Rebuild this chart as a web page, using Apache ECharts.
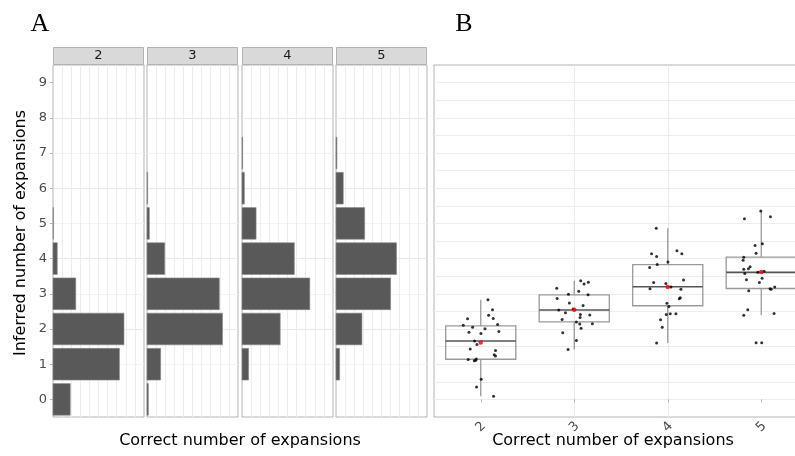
<!DOCTYPE html>
<html>
<head>
<meta charset="utf-8">
<script src="https://cdn.jsdelivr.net/npm/echarts@6/dist/echarts.min.js"></script>
<style>
  html, body { margin: 0; padding: 0; background: #fff; }
  #chart { width: 795px; height: 456px; }
</style>
</head>
<body>
<div id="chart"></div>
<script>
// 数据：A面板直方图（每个正确扩展数一个分面）
const facetLabels = ['2', '3', '4', '5'];
const inferredLevels = [0, 1, 2, 3, 4, 5, 6, 7, 8, 9];
const hist2 = [1.9, 7.3, 7.8, 2.5, 0.47, 0.05, 0, 0, 0, 0];
const hist3 = [0.15, 1.5, 8.3, 7.95, 1.95, 0.26, 0.07, 0, 0, 0];
const hist4 = [0, 0.73, 4.2, 7.45, 5.75, 1.55, 0.26, 0.07, 0, 0];
const hist5 = [0, 0.4, 2.85, 6.0, 6.65, 3.15, 0.8, 0.1, 0, 0];
const yTicks = [0, 1, 2, 3, 4, 5, 6, 7, 8, 9];

// 数据：B面板箱线图
const boxCats = [2, 3, 4, 5];
const whiskerLow = [0.09, 1.42, 1.6, 2.4];
const q1 = [1.14, 2.2, 2.66, 3.15];
const medians = [1.66, 2.54, 3.2, 3.61];
const q3 = [2.09, 2.97, 3.83, 4.04];
const whiskerHigh = [2.83, 3.37, 4.86, 5.35];
const means = [1.62, 2.55, 3.19, 3.62];

// 抖动点 [x, y]
const pts2 = [[2.077, 2.83], [2.126, 2.55], [2.084, 2.39], [2.134, 2.30], [1.859, 2.29], [2.18, 2.13],
  [1.813, 2.11], [1.913, 2.05], [2.045, 2.01], [2.194, 1.93], [1.874, 1.91], [2.002, 1.87],
  [1.934, 1.66], [1.959, 1.56], [1.888, 1.43], [2.158, 1.39], [2.144, 1.27], [2.158, 1.23],
  [1.866, 1.13], [1.952, 1.15], [1.931, 1.10], [1.945, 1.11], [2.005, 0.57], [1.955, 0.35], [2.137, 0.09]];
const pts3 = [[3.069, 3.37], [3.105, 3.28], [3.151, 3.33], [2.813, 3.16], [3.048, 3.07], [2.938, 2.99],
  [3.148, 2.97], [2.817, 2.87], [2.948, 2.74], [3.094, 2.67], [2.834, 2.54], [2.988, 2.57],
  [2.906, 2.46], [3.066, 2.41], [3.166, 2.40], [3.062, 2.33], [2.87, 2.27], [3.023, 2.20],
  [3.059, 2.14], [3.194, 2.15], [3.073, 2.02], [2.877, 1.89], [3.023, 1.67], [2.934, 1.42]];
const pts4 = [[3.877, 4.86], [4.098, 4.22], [4.151, 4.14], [3.827, 4.14], [3.881, 4.06], [4.002, 3.90],
  [3.888, 3.83], [3.806, 3.75], [4.169, 3.39], [3.849, 3.32], [3.98, 3.29], [4.034, 3.19],
  [3.81, 3.14], [4.141, 3.13], [4.134, 2.89], [4.123, 2.86], [3.991, 2.73], [4.012, 2.64],
  [3.984, 2.41], [4.027, 2.43], [4.087, 2.43], [3.923, 2.26], [3.941, 2.05], [3.881, 1.60]];
const pts5 = [[4.995, 5.35], [5.098, 5.19], [4.82, 5.13], [4.934, 4.37], [5.012, 4.42], [4.945, 4.15],
  [4.813, 4.04], [4.806, 3.95], [4.881, 3.77], [4.863, 3.71], [4.813, 3.70], [4.824, 3.58],
  [4.963, 3.61], [5.03, 3.64], [5.009, 3.44], [4.842, 3.40], [4.98, 3.32], [5.144, 3.19],
  [5.094, 3.14], [5.105, 3.13], [4.866, 3.09], [4.856, 2.55], [4.813, 2.39], [5.137, 2.44],
  [4.945, 1.61], [5.005, 1.61]];

const chart = echarts.init(document.getElementById('chart'));

const FONT = '"DejaVu Sans", sans-serif';
const facetLeft = [53, 147, 242, 336];
const facetWidth = 91;
const panelTop = 65;
const panelHeight = 352;

const hists = [hist2, hist3, hist4, hist5];

// 水平条形（直方图）
function renderBar(params, api) {
  const v = api.value(0);
  const y = api.value(1);
  const p0 = api.coord([0, y + 0.45]);
  const p1 = api.coord([v, y - 0.45]);
  return {
    type: 'rect',
    shape: { x: p0[0], y: p0[1], width: p1[0] - p0[0], height: p1[1] - p0[1] },
    style: { fill: '#595959', stroke: '#8a8a8a', lineWidth: 0.6 }
  };
}

// 箱线图
function renderBox(params, api) {
  const x = api.value(0);
  const lo = api.value(1), b1 = api.value(2), md = api.value(3), b3 = api.value(4), hi = api.value(5);
  const half = 0.375;
  const pLo = api.coord([x, lo]);
  const pHi = api.coord([x, hi]);
  const tl = api.coord([x - half, b3]);
  const br = api.coord([x + half, b1]);
  const ml = api.coord([x - half, md]);
  const mr = api.coord([x + half, md]);
  const boxStyle = { stroke: '#9a9a9a', lineWidth: 1.3, fill: 'none' };
  return {
    type: 'group',
    children: [
      { type: 'line', shape: { x1: pLo[0], y1: pLo[1], x2: pLo[0], y2: br[1] }, style: boxStyle },
      { type: 'line', shape: { x1: pHi[0], y1: pHi[1], x2: pHi[0], y2: tl[1] }, style: boxStyle },
      { type: 'rect', shape: { x: tl[0], y: tl[1], width: br[0] - tl[0], height: br[1] - tl[1] }, style: boxStyle },
      { type: 'line', shape: { x1: ml[0], y1: ml[1], x2: mr[0], y2: mr[1] }, style: { stroke: '#555', lineWidth: 1.6 } }
    ]
  };
}

const grids = [];
const xAxes = [];
const yAxes = [];
const series = [];
const graphics = [];

facetLabels.forEach(function (lab, i) {
  grids.push({
    left: facetLeft[i], top: panelTop, width: facetWidth, height: panelHeight,
    outerBoundsMode: 'none',
    show: true, borderColor: '#b3b3b3', borderWidth: 1, backgroundColor: '#fff'
  });
  xAxes.push({
    type: 'value', gridIndex: i, min: 0, max: 10, interval: 1,
    axisLine: { show: false }, axisTick: { show: false }, axisLabel: { show: false },
    splitLine: { show: true, showMinLine: false, showMaxLine: false, lineStyle: { color: '#ededed', width: 1 } }
  });
  yAxes.push({
    type: 'value', gridIndex: i, min: -0.5, max: 9.5, interval: 0.5,
    axisLine: { show: false },
    axisTick: { show: i === 0, length: 3, customValues: yTicks, lineStyle: { color: '#b3b3b3' } },
    axisLabel: {
      show: i === 0, customValues: yTicks, color: '#4d4d4d', fontSize: 13, fontFamily: FONT, margin: 6,
      formatter: function (v) { return Number.isInteger(v) ? String(v) : ''; }
    },
    splitLine: { show: true, showMinLine: false, showMaxLine: false, lineStyle: { color: ['#f3f3f3', '#e8e8e8'], width: 1 } }
  });
  series.push({
    type: 'custom', xAxisIndex: i, yAxisIndex: i, renderItem: renderBar,
    encode: { x: 0, y: 1 },
    data: inferredLevels.map(function (y, j) { return [hists[i][j], y]; }).filter(function (d) { return d[0] > 0; })
  });
  graphics.push({
    type: 'rect', shape: { x: facetLeft[i] + 0.5, y: 47.5, width: facetWidth - 1, height: 17 },
    style: { fill: '#d9d9d9', stroke: '#b3b3b3', lineWidth: 1 }
  });
  graphics.push({
    type: 'text', x: facetLeft[i] + facetWidth / 2, y: 56,
    style: { text: lab, fill: '#1a1a1a', font: '13px ' + FONT, textAlign: 'center', textVerticalAlign: 'middle' }
  });
});

// B面板（右侧超出画布，与原图一致）
grids.push({
  left: 434, top: panelTop, width: 374, height: panelHeight,
  outerBoundsMode: 'none',
  show: true, borderColor: '#b3b3b3', borderWidth: 1, backgroundColor: '#fff'
});
xAxes.push({
  type: 'value', gridIndex: 4, min: 1.5, max: 5.5, splitNumber: 4,
  axisLine: { show: false },
  axisTick: { show: true, length: 3, customValues: boxCats, lineStyle: { color: '#b3b3b3' } },
  axisLabel: {
    customValues: boxCats, rotate: 45, color: '#4d4d4d', fontSize: 13, fontFamily: FONT,
    align: 'center', verticalAlign: 'middle', margin: 10,
    formatter: function (v) { return Number.isInteger(v) ? String(v) : ''; }
  },
  splitLine: { show: true, showMinLine: false, showMaxLine: false, lineStyle: { color: '#ebebeb', width: 1 } }
});
yAxes.push({
  type: 'value', gridIndex: 4, min: -0.5, max: 9.5, interval: 0.5,
  axisLine: { show: false }, axisTick: { show: false }, axisLabel: { show: false },
  splitLine: { show: true, showMinLine: false, showMaxLine: false, lineStyle: { color: '#ededed', width: 1 } }
});
series.push({
  type: 'custom', xAxisIndex: 4, yAxisIndex: 4, renderItem: renderBox, z: 2,
  encode: { x: 0, y: [1, 2, 3, 4, 5] },
  data: boxCats.map(function (c, i) { return [c, whiskerLow[i], q1[i], medians[i], q3[i], whiskerHigh[i]]; })
});
series.push({
  type: 'scatter', xAxisIndex: 4, yAxisIndex: 4, z: 3, symbolSize: 3,
  itemStyle: { color: '#000' }, silent: true,
  data: pts2.concat(pts3, pts4, pts5)
});
series.push({
  type: 'scatter', xAxisIndex: 4, yAxisIndex: 4, z: 4, symbolSize: 4.5,
  itemStyle: { color: '#ff0000' }, silent: true,
  data: boxCats.map(function (c, i) { return [c, means[i]]; })
});

// 标题与面板字母
graphics.push(
  { type: 'text', x: 40, y: 24, style: { text: 'A', fill: '#000', font: '26px "Liberation Serif", serif', textAlign: 'center', textVerticalAlign: 'middle' } },
  { type: 'text', x: 464, y: 24, style: { text: 'B', fill: '#000', font: '26px "Liberation Serif", serif', textAlign: 'center', textVerticalAlign: 'middle' } },
  { type: 'text', x: 21, y: 233, rotation: Math.PI / 2, style: { text: 'Inferred number of expansions', fill: '#000', font: '16px ' + FONT, textAlign: 'center', textVerticalAlign: 'middle' } },
  { type: 'text', x: 240, y: 441, style: { text: 'Correct number of expansions', fill: '#000', font: '16px ' + FONT, textAlign: 'center', textVerticalAlign: 'middle' } },
  { type: 'text', x: 613, y: 441, style: { text: 'Correct number of expansions', fill: '#000', font: '16px ' + FONT, textAlign: 'center', textVerticalAlign: 'middle' } }
);

chart.setOption({
  animation: false,
  grid: grids,
  xAxis: xAxes,
  yAxis: yAxes,
  series: series,
  graphic: graphics
});
</script>
</body>
</html>
